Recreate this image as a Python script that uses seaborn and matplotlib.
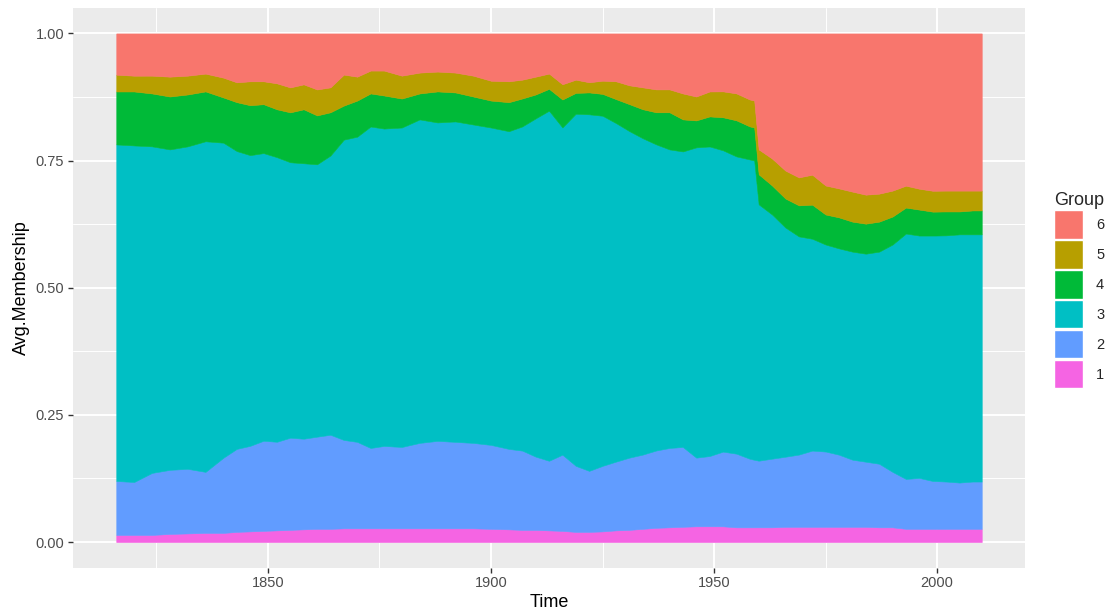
import numpy as np
import pandas as pd
import seaborn as sns
import matplotlib.pyplot as plt
from matplotlib.patches import Patch

# average membership share per group
years = [1816, 1820, 1824, 1828, 1832, 1836, 1840, 1843, 1846, 1849, 1852, 1855,
         1858, 1861, 1864, 1867, 1870, 1873, 1876, 1880, 1884, 1888, 1892, 1896,
         1900, 1904, 1907, 1910, 1913, 1916, 1919, 1922, 1925, 1928, 1931, 1934,
         1937, 1940, 1943, 1946, 1949, 1952, 1955, 1958, 1959, 1960, 1963, 1966,
         1969, 1972, 1975, 1978, 1981, 1984, 1987, 1990, 1993, 1996, 1999, 2002,
         2005, 2008, 2010]

group1 = [.014, .014, .014, .016, .017, .018, .018, .020, .021, .022, .023, .024,
          .025, .026, .026, .027, .027, .027, .027, .027, .027, .027, .027, .027,
          .026, .025, .024, .024, .023, .022, .020, .020, .021, .023, .024, .026,
          .028, .029, .030, .031, .031, .031, .029, .029, .029, .029, .029, .030,
          .030, .030, .030, .030, .030, .030, .029, .029, .026, .026, .026, .026,
          .026, .026, .026]
group2 = [.106, .104, .122, .126, .127, .120, .148, .163, .168, .177, .174, .181,
          .178, .181, .185, .174, .170, .158, .162, .160, .168, .172, .170, .168,
          .165, .158, .156, .144, .137, .150, .130, .120, .129, .135, .142, .146,
          .152, .156, .157, .135, .138, .147, .145, .135, .133, .131, .135, .138,
          .142, .150, .148, .142, .132, .128, .125, .109, .098, .100, .094, .093,
          .091, .093, .093]
group3 = [.661, .661, .642, .630, .634, .650, .620, .585, .571, .565, .559, .541,
          .541, .535, .549, .591, .600, .632, .624, .628, .636, .626, .630, .626,
          .624, .624, .638, .665, .689, .644, .693, .701, .689, .665, .642, .622,
          .602, .587, .581, .610, .608, .593, .585, .589, .589, .504, .480, .451,
          .429, .417, .407, .406, .409, .409, .417, .447, .482, .476, .482, .484,
          .488, .486, .486]
group4 = [.104, .106, .104, .104, .102, .098, .089, .096, .098, .096, .094, .098,
          .106, .096, .085, .067, .071, .065, .065, .057, .051, .061, .057, .055,
          .053, .057, .055, .047, .043, .055, .041, .043, .043, .047, .053, .057,
          .063, .073, .063, .053, .059, .065, .071, .065, .065, .059, .057, .057,
          .061, .067, .059, .061, .059, .059, .059, .055, .051, .051, .047, .047,
          .045, .047, .047]
group5 = [.033, .031, .035, .039, .037, .035, .039, .039, .047, .045, .051, .049,
          .049, .051, .049, .061, .047, .045, .049, .045, .041, .039, .039, .041,
          .039, .041, .037, .035, .030, .030, .026, .020, .026, .035, .037, .043,
          .045, .045, .051, .047, .049, .051, .053, .053, .053, .049, .053, .055,
          .055, .059, .057, .057, .059, .057, .055, .051, .043, .041, .041, .041,
          .041, .039, .039]
group6 = [.081, .083, .083, .085, .083, .079, .087, .096, .094, .094, .098, .106,
          .100, .110, .106, .081, .085, .073, .073, .083, .077, .075, .077, .083,
          .093, .094, .091, .085, .079, .100, .091, .096, .093, .094, .102, .106,
          .110, .110, .118, .124, .114, .114, .118, .130, .132, .228, .246, .270,
          .283, .278, .299, .305, .311, .317, .315, .309, .299, .305, .309, .309,
          .309, .309, .309]

groups = ['1', '2', '3', '4', '5', '6']
palette = ['#F564E3', '#619CFF', '#00BFC4', '#00BA38', '#B79F00', '#F8766D']

df = pd.DataFrame({'Time': years, '1': group1, '2': group2, '3': group3,
                   '4': group4, '5': group5, '6': group6})
shares = df[groups].to_numpy().T
shares = shares / shares.sum(axis=0)

sns.set_theme(style='darkgrid', rc={'axes.facecolor': '#EBEBEB',
                                    'grid.color': 'white',
                                    'xtick.bottom': True, 'ytick.left': True,
                                    'xtick.major.size': 3.3, 'ytick.major.size': 3.3,
                                    'xtick.major.width': 1.0, 'ytick.major.width': 1.0,
                                    'xtick.color': '#333333', 'ytick.color': '#333333',
                                    'xtick.direction': 'out', 'ytick.direction': 'out'})
plt.rcParams['font.family'] = ['Liberation Sans', 'DejaVu Sans']

fig = plt.figure(figsize=(11.12, 6.15), dpi=100)
ax = fig.add_axes([73 / 1112, 1 - 567.5 / 615, (1025 - 73) / 1112, (567.5 - 8) / 615])

polys = ax.stackplot(df['Time'], shares, colors=palette, linewidth=0)
for p, c in zip(polys, palette):
    p.set_edgecolor(c)
    p.set_linewidth(0.4)

ax.set_xlim(1806.3, 2019.7)
ax.set_ylim(-0.05, 1.05)

ax.set_xticks([1850, 1900, 1950, 2000])
ax.set_xticks([1825, 1875, 1925, 1975], minor=True)
ax.set_yticks([0, 0.25, 0.5, 0.75, 1.0])
ax.set_yticklabels(['0.00', '0.25', '0.50', '0.75', '1.00'])
ax.set_yticks([0.125, 0.375, 0.625, 0.875], minor=True)

ax.set_axisbelow(True)
ax.grid(which='major', color='white', linewidth=1.4)
ax.grid(which='minor', color='white', linewidth=0.7)
for s in ax.spines.values():
    s.set_visible(False)

ax.tick_params(which='major', labelcolor='#4D4D4D', labelsize=10.5, pad=3)
ax.tick_params(which='minor', length=0)

ax.set_xlabel('Time', fontsize=13, color='black', labelpad=3)
ax.set_ylabel('Avg.Membership', fontsize=13, color='black', labelpad=4)

handles = [Patch(facecolor=c, edgecolor='white', linewidth=1.0, label=g)
           for g, c in zip(groups, palette)][::-1]
leg = fig.legend(handles=handles, title='Group', loc='center left',
                 bbox_to_anchor=(1048 / 1112, 1 - 290 / 615), frameon=False,
                 fontsize=10.5, title_fontsize=13, handlelength=2.0,
                 handleheight=2.6, labelspacing=0.12, handletextpad=0.9,
                 borderaxespad=0)
leg._legend_box.align = 'left'

fig.savefig('out.png', dpi=100)
